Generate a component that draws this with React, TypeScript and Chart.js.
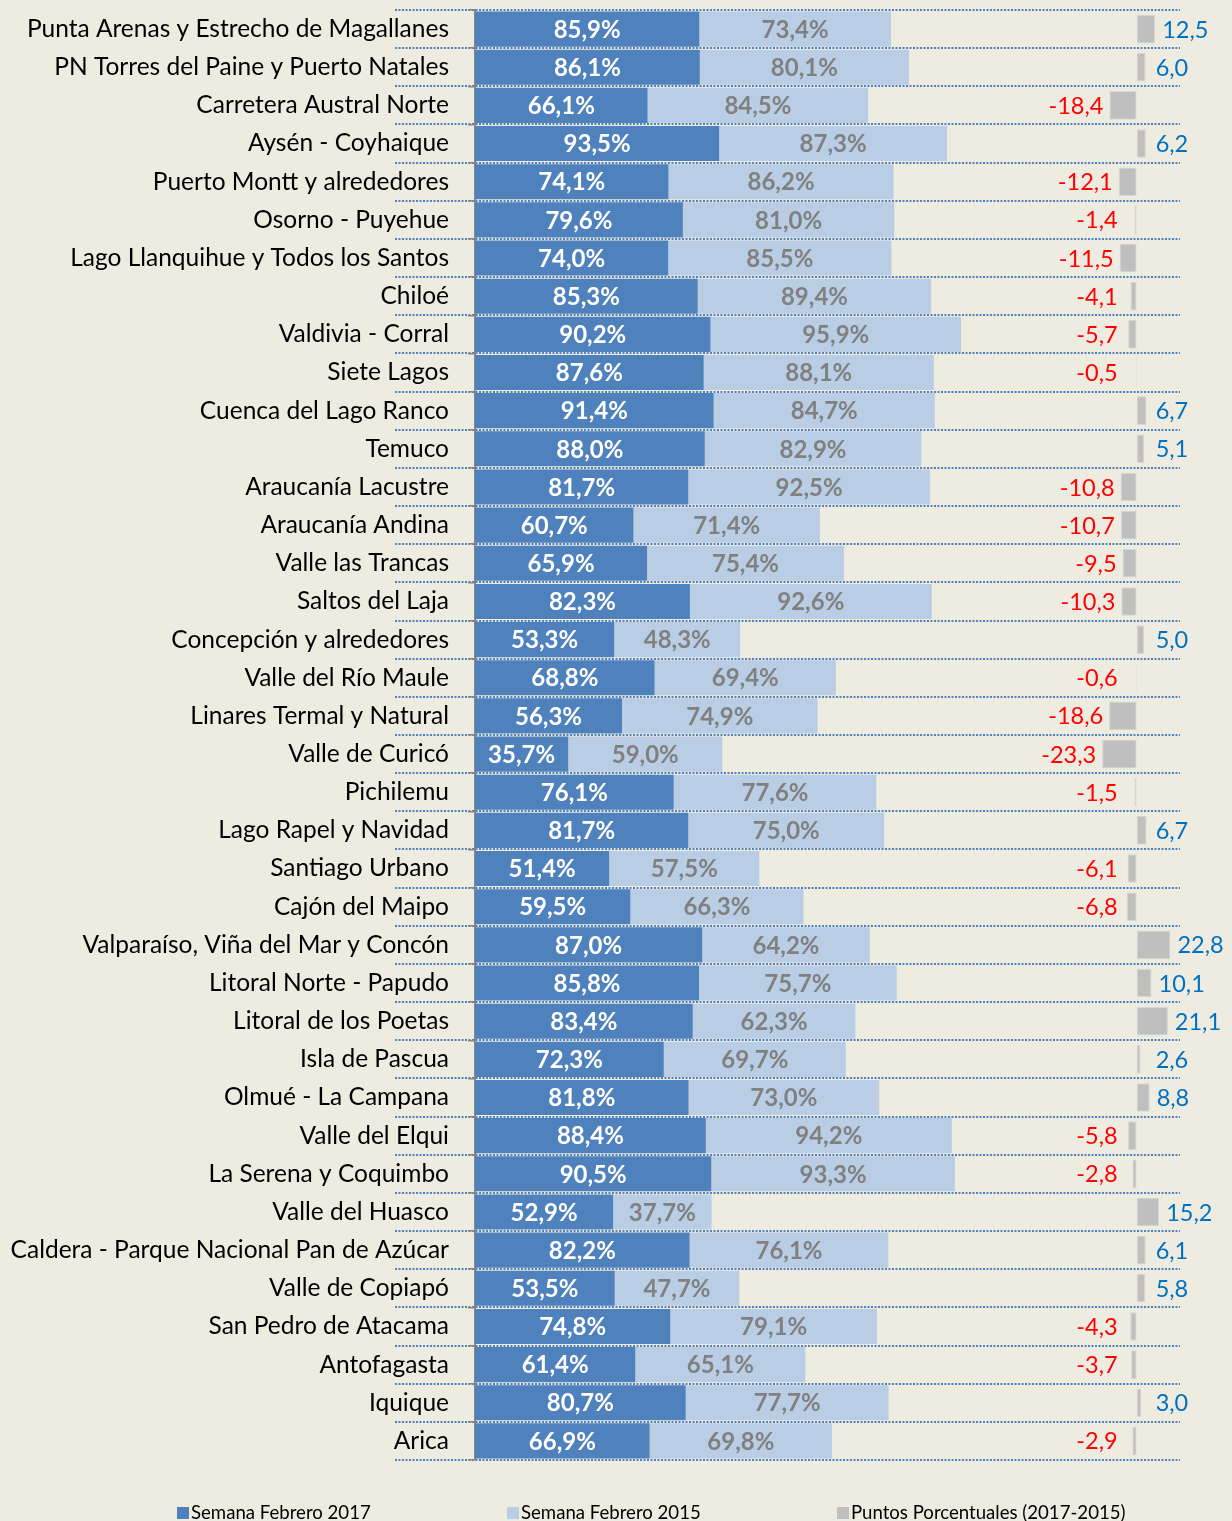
import { useEffect, useRef } from 'react';
import { Chart, registerables } from 'chart.js';

Chart.register(...registerables);

const categories = [
  'Punta Arenas y Estrecho de Magallanes',
  'PN Torres del Paine y Puerto Natales',
  'Carretera Austral Norte',
  'Aysén - Coyhaique',
  'Puerto Montt y alrededores',
  'Osorno - Puyehue',
  'Lago Llanquihue y Todos los Santos',
  'Chiloé',
  'Valdivia - Corral',
  'Siete Lagos',
  'Cuenca del Lago Ranco',
  'Temuco',
  'Araucanía Lacustre',
  'Araucanía Andina',
  'Valle las Trancas',
  'Saltos del Laja',
  'Concepción y alrededores',
  'Valle del Río Maule',
  'Linares Termal y Natural',
  'Valle de Curicó',
  'Pichilemu',
  'Lago Rapel y Navidad',
  'Santiago Urbano',
  'Cajón del Maipo',
  'Valparaíso, Viña del Mar y Concón',
  'Litoral Norte - Papudo',
  'Litoral de los Poetas',
  'Isla de Pascua',
  'Olmué - La Campana',
  'Valle del Elqui',
  'La Serena y Coquimbo',
  'Valle del Huasco',
  'Caldera - Parque Nacional Pan de Azúcar',
  'Valle de Copiapó',
  'San Pedro de Atacama',
  'Antofagasta',
  'Iquique',
  'Arica',
];

const feb2017 = [
  85.9, 86.1, 66.1, 93.5, 74.1, 79.6, 74.0, 85.3, 90.2, 87.6,
  91.4, 88.0, 81.7, 60.7, 65.9, 82.3, 53.3, 68.8, 56.3, 35.7,
  76.1, 81.7, 51.4, 59.5, 87.0, 85.8, 83.4, 72.3, 81.8, 88.4,
  90.5, 52.9, 82.2, 53.5, 74.8, 61.4, 80.7, 66.9,
];

const feb2015 = [
  73.4, 80.1, 84.5, 87.3, 86.2, 81.0, 85.5, 89.4, 95.9, 88.1,
  84.7, 82.9, 92.5, 71.4, 75.4, 92.6, 48.3, 69.4, 74.9, 59.0,
  77.6, 75.0, 57.5, 66.3, 64.2, 75.7, 62.3, 69.7, 73.0, 94.2,
  93.3, 37.7, 76.1, 47.7, 79.1, 65.1, 77.7, 69.8,
];

const diffPoints = [
  12.5, 6.0, -18.4, 6.2, -12.1, -1.4, -11.5, -4.1, -5.7, -0.5,
  6.7, 5.1, -10.8, -10.7, -9.5, -10.3, 5.0, -0.6, -18.6, -23.3,
  -1.5, 6.7, -6.1, -6.8, 22.8, 10.1, 21.1, 2.6, 8.8, -5.8,
  -2.8, 15.2, 6.1, 5.8, -4.3, -3.7, 3.0, -2.9,
];

const seriesNames = [
  'Semana Febrero 2017',
  'Semana Febrero 2015',
  'Puntos Porcentuales (2017-2015)',
];

const W = 1232;
const H = 1521;
const BG = '#EEECE1';
const FONT = 'Lato, "Open Sans", sans-serif';
const C2017 = '#4F81BD';
const C2015 = '#B9CDE5';
const CDIFF = '#BFBFBF';

const fmt = (v: number) => v.toFixed(1).replace('.', ',');

const dottedGridPlugin = {
  id: 'dottedGrid',
  beforeDraw(chart: any) {
    const { ctx, chartArea, scales } = chart;
    const y = scales.y;
    const n = categories.length;
    const p0 = y.getPixelForValue(0);
    const p1 = y.getPixelForValue(1);
    const half = (p1 - p0) / 2;
    ctx.save();
    ctx.strokeStyle = '#4F81BD';
    ctx.lineWidth = 2;
    ctx.setLineDash([2, 1.5]);
    for (let i = 0; i <= n; i++) {
      const py = i < n ? y.getPixelForValue(i) - half : y.getPixelForValue(n - 1) + half;
      const yy = Math.round(py);
      ctx.beginPath();
      ctx.moveTo(chartArea.left - 80, yy);
      ctx.lineTo(chartArea.right, yy);
      ctx.stroke();
    }
    ctx.restore();
  },
};

const barLabelPlugin = {
  id: 'barLabels',
  afterDatasetsDraw(chart: any) {
    const { ctx } = chart;
    const m0 = chart.getDatasetMeta(0);
    const m1 = chart.getDatasetMeta(1);
    const m2 = chart.getDatasetMeta(2);
    const zero = chart.scales.x2.getPixelForValue(0);
    ctx.save();
    ctx.textBaseline = 'middle';
    ctx.textAlign = 'center';
    ctx.font = `bold 24px ${FONT}`;
    m0.data.forEach((el: any, i: number) => {
      ctx.fillStyle = '#FFFFFF';
      ctx.fillText(fmt(feb2017[i]) + '%', (el.x + el.base) / 2, el.y + 1);
    });
    m1.data.forEach((el: any, i: number) => {
      ctx.fillStyle = '#808080';
      ctx.fillText(fmt(feb2015[i]) + '%', (el.x + el.base) / 2, el.y + 1);
    });
    ctx.font = `23.5px ${FONT}`;
    m2.data.forEach((el: any, i: number) => {
      const v = diffPoints[i];
      if (v >= 0) {
        ctx.textAlign = 'left';
        ctx.fillStyle = '#0070C0';
        ctx.fillText(fmt(v), Math.max(el.x + 7, zero + 19), el.y + 1);
      } else {
        ctx.textAlign = 'right';
        ctx.fillStyle = '#FF0000';
        ctx.fillText(fmt(v), Math.min(el.x - 6, zero - 19), el.y + 1);
      }
    });
    ctx.restore();
  },
};

const legendPlugin = {
  id: 'bottomLegend',
  afterDraw(chart: any) {
    const { ctx } = chart;
    const colors = [C2017, C2015, CDIFF];
    const xs = [177, 507, 837];
    ctx.save();
    ctx.font = `18.6px ${FONT}`;
    ctx.textAlign = 'left';
    ctx.textBaseline = 'alphabetic';
    seriesNames.forEach((name, i) => {
      ctx.fillStyle = colors[i];
      ctx.fillRect(xs[i], 1507, 12, 12);
      ctx.fillStyle = '#000000';
      ctx.fillText(name, xs[i] + 14, 1519);
    });
    ctx.restore();
  },
};

export default function App() {
  const canvasRef = useRef<HTMLCanvasElement | null>(null);

  useEffect(() => {
    const canvas = canvasRef.current;
    if (!canvas) return;
    const chart = new Chart(canvas, {
      type: 'bar',
      data: {
        labels: categories,
        datasets: [
          {
            label: seriesNames[0],
            data: feb2017,
            backgroundColor: C2017,
            xAxisID: 'x',
            stack: 'main',
            barPercentage: 0.92,
            categoryPercentage: 1,
          },
          {
            label: seriesNames[1],
            data: feb2015,
            backgroundColor: C2015,
            xAxisID: 'x',
            stack: 'main',
            barPercentage: 0.92,
            categoryPercentage: 1,
          },
          {
            label: seriesNames[2],
            data: diffPoints,
            backgroundColor: CDIFF,
            borderColor: '#D6D6D6',
            borderWidth: 1,
            borderSkipped: false,
            xAxisID: 'x2',
            grouped: false,
            barPercentage: 0.75,
            categoryPercentage: 1,
          },
        ],
      },
      options: {
        indexAxis: 'y',
        responsive: false,
        animation: false,
        layout: { padding: { left: 0, top: 10, right: 52, bottom: 61 } },
        plugins: {
          legend: { display: false },
          tooltip: { enabled: false },
        },
        scales: {
          x: {
            type: 'linear',
            min: 0,
            max: 270,
            stacked: true,
            display: false,
          },
          x2: {
            type: 'linear',
            min: -447,
            max: 29.3,
            display: false,
          },
          y: {
            type: 'category',
            stacked: true,
            z: 1,
            grid: {
              drawOnChartArea: false,
              drawTicks: true,
              tickLength: 7,
              color: '#868686',
              lineWidth: 1.5,
              offset: true,
            },
            border: { display: true, color: '#868686', width: 2 },
            ticks: {
              color: '#000000',
              font: { family: FONT, size: 24.5 },
              padding: 19,
              autoSkip: false,
            },
            afterFit: (s: any) => {
              s.width = 475;
              s.paddingTop = 0;
              s.paddingBottom = 0;
            },
          },
        },
      } as any,
      plugins: [dottedGridPlugin, barLabelPlugin, legendPlugin],
    });
    return () => chart.destroy();
  }, []);

  return (
    <div
      style={{
        position: 'absolute',
        left: 0,
        top: 0,
        width: W,
        height: H,
        background: BG,
        overflow: 'hidden',
      }}
    >
      <canvas ref={canvasRef} width={W} height={H} style={{ display: 'block', width: W, height: H }} />
    </div>
  );
}
